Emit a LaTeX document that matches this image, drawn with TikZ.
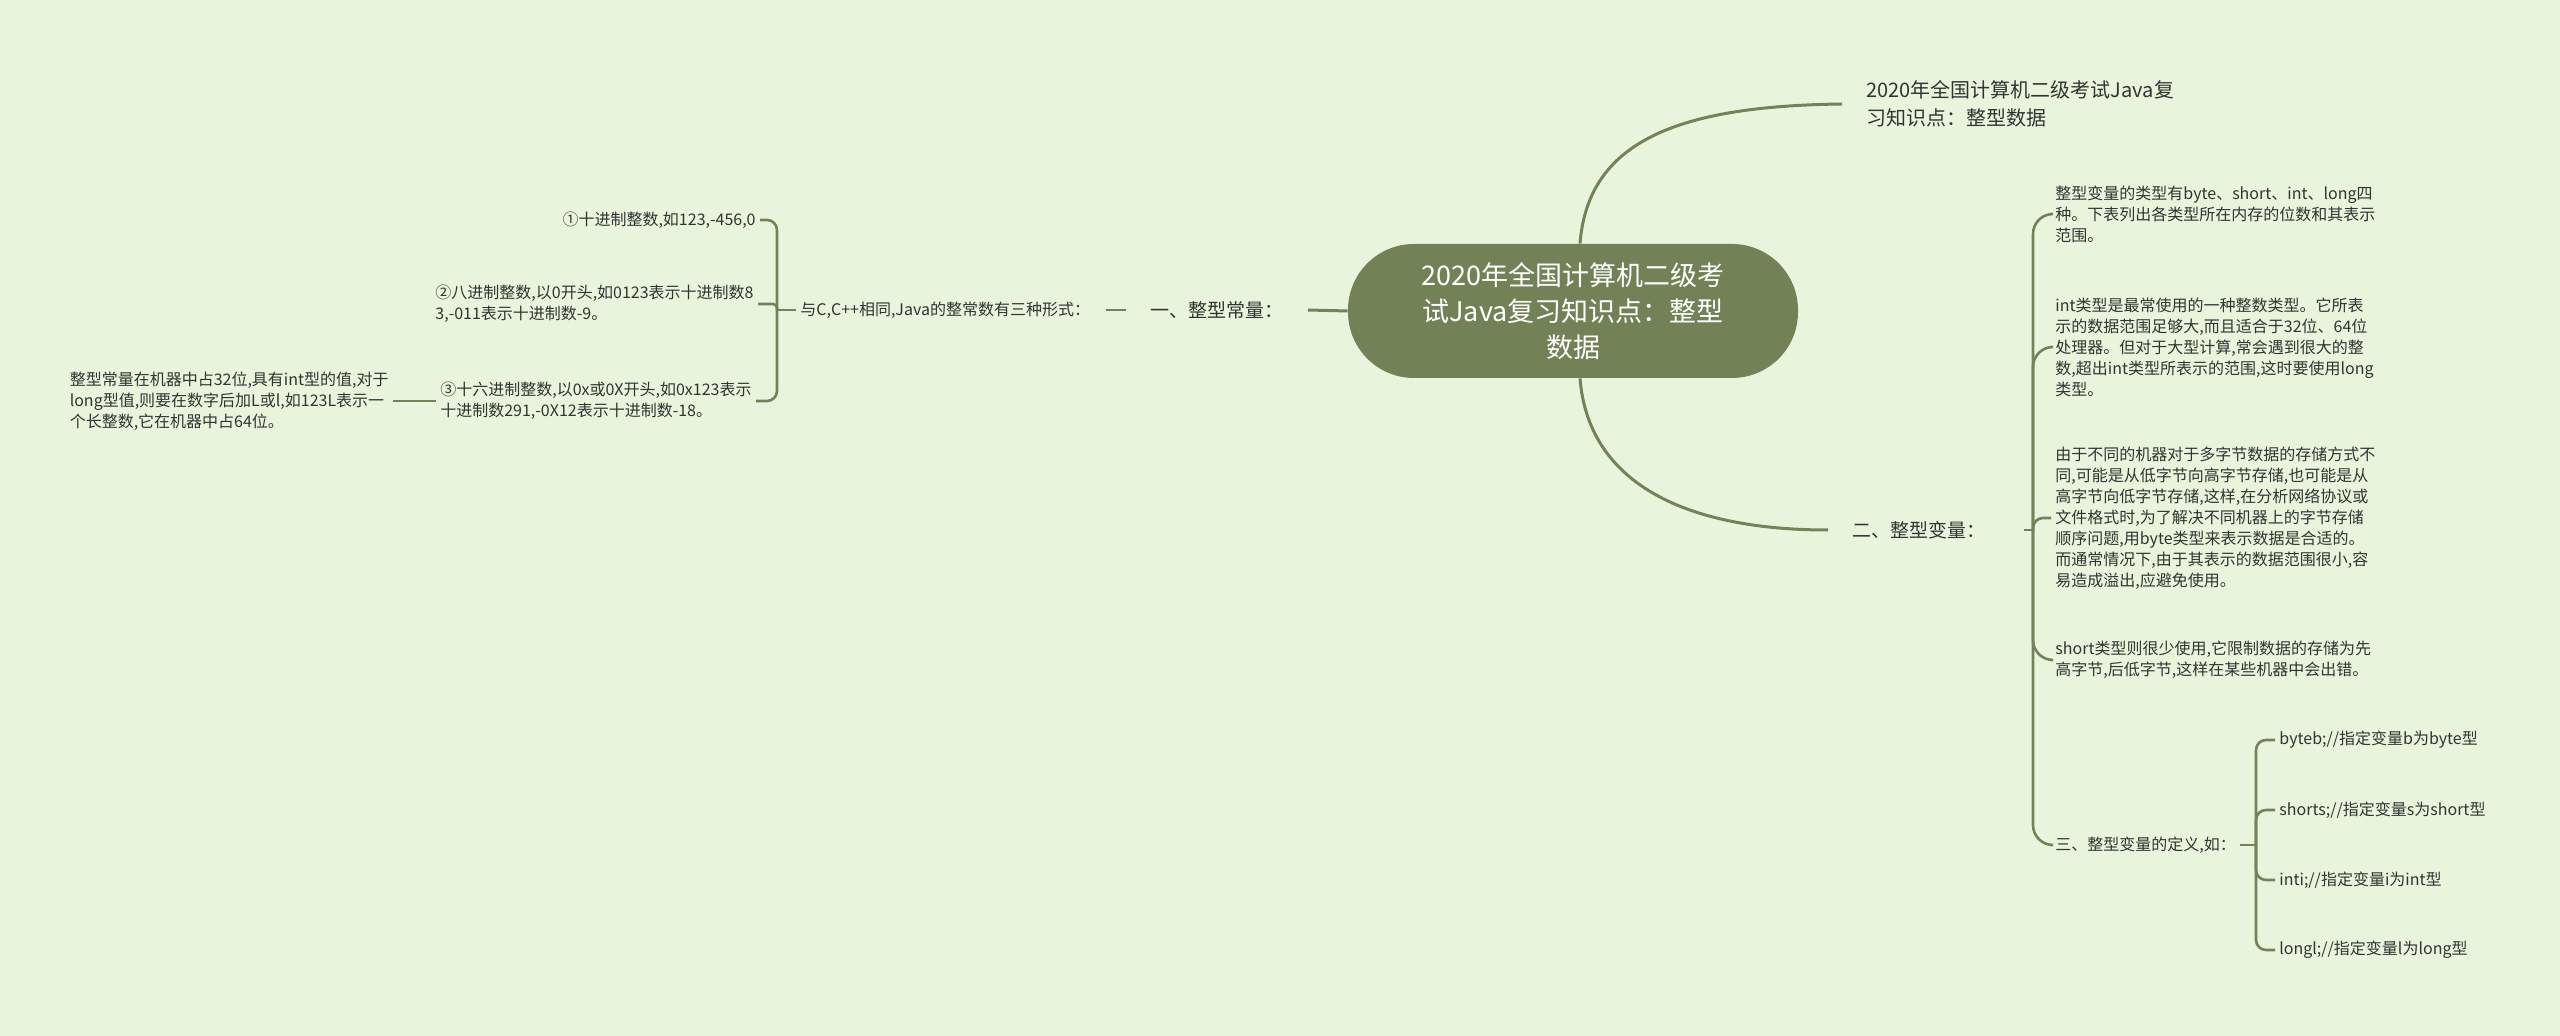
\documentclass[tikz,border=0pt]{standalone}
\usepackage{fontspec}
\setmainfont{Noto Sans CJK SC}
\usepackage{xcolor}
\definecolor{bgc}{HTML}{E8F5DC}
\definecolor{linec}{HTML}{74825A}
\definecolor{pillc}{HTML}{738156}
\definecolor{txtc}{HTML}{333333}

\begin{document}
\begin{tikzpicture}[x=0.5pt,y=-0.5pt,
    leaf/.style={font=\fontsize{8}{10.5}\selectfont,text=txtc,align=left,inner xsep=2pt,inner ysep=2pt},
    topic/.style={font=\fontsize{9.5}{14}\selectfont,text=txtc,align=left,inner xsep=12pt},
    pill/.style={fill=pillc,text=white,rounded corners=33pt,minimum width=225pt,minimum height=67pt,
        font=\fontsize{13.5}{18}\selectfont,align=center},
    conn/.style={draw=linec,line width=1.3pt},
    brace/.style={conn,rounded corners=5pt}]
    % Background
    \fill[bgc] (0,0) rectangle (2560,1036);
    \useasboundingbox (0,0) rectangle (2560,1036);

    % Center
    \node[pill] (ctr) at (1573,311) {2020年全国计算机二级考\\试Java复习知识点：整型\\数据};

    % Left side
    \node[topic] (yi) at (1217,310) {一、整型常量：};
    \node[leaf,anchor=west] (yu) at (796,310) {与C,C++相同,Java的整常数有三种形式：};
    \coordinate (jA) at (777,310);
    \node[leaf,anchor=east] (c1) at (760,220) {①十进制整数,如123,-456,0};
    \node[leaf,anchor=east] (c2) at (758,304) {②八进制整数,以0开头,如0123表示十进制数8\\3,-011表示十进制数-9。};
    \node[leaf,anchor=east] (c3) at (756,401) {③十六进制整数,以0x或0X开头,如0x123表示\\十进制数291,-0X12表示十进制数-18。};
    \node[leaf,anchor=east] (cl) at (393,401) {整型常量在机器中占32位,具有int型的值,对于\\long型值,则要在数字后加L或l,如123L表示一\\个长整数,它在机器中占64位。};

    % Right side
    \node[topic,font=\fontsize{10}{14}\selectfont,anchor=west] (title) at (1842,104) {2020年全国计算机二级考试Java复\\习知识点：整型数据};
    \node[topic,anchor=west] (er) at (1828,530) {二、整型变量：};
    \coordinate (jB) at (2033,530);
    \node[leaf,anchor=west] (v1) at (2051,214) {整型变量的类型有byte、short、int、long四\\种。下表列出各类型所在内存的位数和其表示\\范围。};
    \node[leaf,anchor=west] (v2) at (2051,347) {int类型是最常使用的一种整数类型。它所表\\示的数据范围足够大,而且适合于32位、64位\\处理器。但对于大型计算,常会遇到很大的整\\数,超出int类型所表示的范围,这时要使用long\\类型。};
    \node[leaf,anchor=west] (v3) at (2051,518) {由于不同的机器对于多字节数据的存储方式不\\同,可能是从低字节向高字节存储,也可能是从\\高字节向低字节存储,这样,在分析网络协议或\\文件格式时,为了解决不同机器上的字节存储\\顺序问题,用byte类型来表示数据是合适的。\\而通常情况下,由于其表示的数据范围很小,容\\易造成溢出,应避免使用。};
    \node[leaf,anchor=west] (v4) at (2051,660) {short类型则很少使用,它限制数据的存储为先\\高字节,后低字节,这样在某些机器中会出错。};
    \node[leaf,anchor=west] (san) at (2051,845) {三、整型变量的定义,如：};
    \coordinate (jC) at (2256,845);
    \node[leaf,anchor=west] (d1) at (2275,740) {byteb;//指定变量b为byte型};
    \node[leaf,anchor=west] (d2) at (2275,810) {shorts;//指定变量s为short型};
    \node[leaf,anchor=west] (d3) at (2275,880) {inti;//指定变量i为int型};
    \node[leaf,anchor=west] (d4) at (2275,950) {longl;//指定变量l为long型};

    % Connectors
    \draw[conn,line width=1.5pt] ([xshift=3.5pt]ctr.north) .. controls (1588,140) and (1680,106) .. (title.west);
    \draw[conn,line width=1.5pt] ([xshift=3.5pt]ctr.south) .. controls (1588,480) and (1680,530) .. (er.west);
    \draw[conn,line width=1.5pt] (yi.east) -- (ctr.west);
    \draw[conn,shorten <=6pt] (yu.east) -- (yi.west);
    \draw[conn] (jA) -- (yu.west);
    \draw[brace] (jA) |- (c1.east);
    \draw[brace,rounded corners=2pt] (jA) |- (c2.east);
    \draw[brace] (jA) |- (c3.east);
    \draw[conn] (cl.east) -- (c3.west);
    \draw[conn,shorten <=7pt] (er.east) -- (jB);
    \foreach \v in {v1,v2,v4,san}
        \draw[brace,rounded corners=10pt] (jB) |- (\v.west);
    \draw[brace] (jB) |- (v3.west);
    \draw[conn] (san.east) -- (jC);
    \foreach \d in {d1,d2,d3,d4}
        \draw[brace] (jC) |- (\d.west);
\end{tikzpicture}
\end{document}
